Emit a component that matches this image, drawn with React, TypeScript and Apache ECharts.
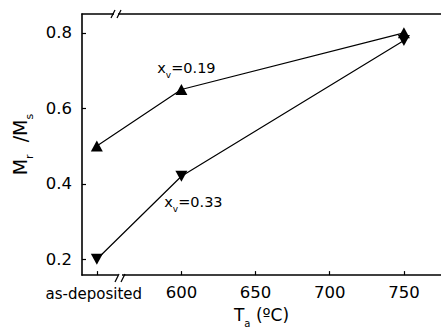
import React, { useEffect, useRef } from "react";
import * as echarts from "echarts";

const xPositions = [543, 600, 750]; // as-deposited, 600, 750 °C
const xTickValues = [543, 600, 650, 700, 750];
const xTickLabels = ["as-deposited", "600", "650", "700", "750"];
const yTickValues = [0.2, 0.4, 0.6, 0.8];
const yTickLabels = ["0.2", "0.4", "0.6", "0.8"];
const seriesA = [0.5, 0.65, 0.8]; // x_v = 0.19
const seriesB = [0.2, 0.42, 0.78]; // x_v = 0.33

const FONT = "DejaVu Sans";

export default function App() {
  const ref = useRef<HTMLDivElement>(null);
  useEffect(() => {
    if (!ref.current) return;
    const chart = echarts.init(ref.current, undefined, { renderer: "svg" });
    const lblRich = {
      a: { fontFamily: FONT, fontSize: 14.5, color: "#000", lineHeight: 17, verticalAlign: "top" },
      s: { fontFamily: FONT, fontSize: 9, color: "#000", lineHeight: 10, verticalAlign: "top", padding: [10, 0, 0, 0] },
    };
    const axisLine = { show: true, lineStyle: { color: "#000", width: 1.6 } };
    chart.setOption({
      animation: false,
      backgroundColor: "#fff",
      grid: { left: 82, top: 14, right: 0, bottom: 55 },
      xAxis: [
        {
          type: "value",
          min: 533,
          max: 775,
          axisLine,
          splitLine: { show: false },
          axisTick: { show: true, inside: true, length: 4, customValues: xTickValues, lineStyle: { color: "#000", width: 1.2 } },
          axisLabel: {
            customValues: xTickValues,
            margin: 9,
            fontFamily: FONT,
            fontSize: 16.5,
            color: "#000",
            formatter: (v: number) => {
              const i = xTickValues.indexOf(v);
              const t = i >= 0 ? xTickLabels[i] : "";
              return i === 0 ? `{s|${t}}` : t;
            },
            rich: { s: { fontFamily: FONT, fontSize: 15, color: "#000", padding: [2, 6, 0, 0] } },
          },
          name: "{a|T}{s|a}{a| (ºC)}",
          nameLocation: "middle",
          nameGap: 30,
          nameTextStyle: {
            rich: {
              a: { fontFamily: FONT, fontSize: 17, color: "#000", lineHeight: 19, verticalAlign: "top" },
              s: { fontFamily: FONT, fontSize: 10, color: "#000", lineHeight: 10, verticalAlign: "top", padding: [12, 0, 0, 0] },
            },
          },
        },
        {
          type: "value",
          position: "top",
          min: 533,
          max: 775,
          axisLine,
          axisTick: { show: false },
          axisLabel: { show: false },
          splitLine: { show: false },
        },
      ],
      yAxis: {
        type: "value",
        min: 0.158,
        max: 0.85,
        axisLine,
        splitLine: { show: false },
        axisTick: { show: true, inside: true, length: 4, customValues: yTickValues, lineStyle: { color: "#000", width: 1.2 } },
        axisLabel: {
          customValues: yTickValues,
          margin: 10,
          fontFamily: FONT,
          fontSize: 16.5,
          color: "#000",
          formatter: (v: number) => {
            const i = yTickValues.findIndex((t) => Math.abs(t - v) < 1e-6);
            return i >= 0 ? yTickLabels[i] : "";
          },
        },
        name: "{a|M}{s|r}{a|  /M}{s|s}",
        nameLocation: "middle",
        nameRotate: 90,
        nameGap: 44,
        nameTextStyle: {
          rich: {
            a: { fontFamily: FONT, fontSize: 19, color: "#000", lineHeight: 21, verticalAlign: "top" },
            s: { fontFamily: FONT, fontSize: 11, color: "#000", lineHeight: 11, verticalAlign: "top", padding: [13, 0, 0, 0] },
          },
        },
      },
      series: [
        {
          type: "line",
          data: xPositions.map((x, i) => [x, seriesA[i]]),
          symbol: "triangle",
          symbolSize: [12, 11],
          itemStyle: { color: "#000" },
          lineStyle: { color: "#000", width: 1.2 },
          label: {
            show: true,
            position: "top",
            distance: 6,
            offset: [5, 0],
            formatter: (p: any) => (p.dataIndex === 1 ? "{a|x}{s|v}{a|=0.19}" : ""),
            rich: lblRich,
          },
          z: 3,
        },
        {
          type: "line",
          data: xPositions.map((x, i) => [x, seriesB[i]]),
          symbol: "triangle",
          symbolRotate: 180,
          symbolSize: [12, 11],
          itemStyle: { color: "#000" },
          lineStyle: { color: "#000", width: 1.2 },
          label: {
            show: true,
            position: "bottom",
            distance: 13,
            offset: [12, 0],
            formatter: (p: any) => (p.dataIndex === 1 ? "{a|x}{s|v}{a|=0.33}" : ""),
            rich: lblRich,
          },
          z: 3,
        },
      ],
      graphic: [
        { type: "rect", shape: { x: 114, y: 10, width: 4, height: 8 }, style: { fill: "#fff" }, z: 100 },
        { type: "line", shape: { x1: 111, y1: 18, x2: 115, y2: 10 }, style: { stroke: "#000", lineWidth: 1.3 }, z: 101 },
        { type: "line", shape: { x1: 117, y1: 18, x2: 121, y2: 10 }, style: { stroke: "#000", lineWidth: 1.3 }, z: 101 },
        { type: "rect", shape: { x: 118, y: 274, width: 4, height: 8 }, style: { fill: "#fff" }, z: 100 },
        { type: "line", shape: { x1: 115, y1: 282, x2: 119, y2: 274 }, style: { stroke: "#000", lineWidth: 1.3 }, z: 101 },
        { type: "line", shape: { x1: 121, y1: 282, x2: 125, y2: 274 }, style: { stroke: "#000", lineWidth: 1.3 }, z: 101 },
      ],
    });
    return () => chart.dispose();
  }, []);
  return <div ref={ref} style={{ width: 441, height: 333, position: "absolute", left: 0, top: 0 }} />;
}
